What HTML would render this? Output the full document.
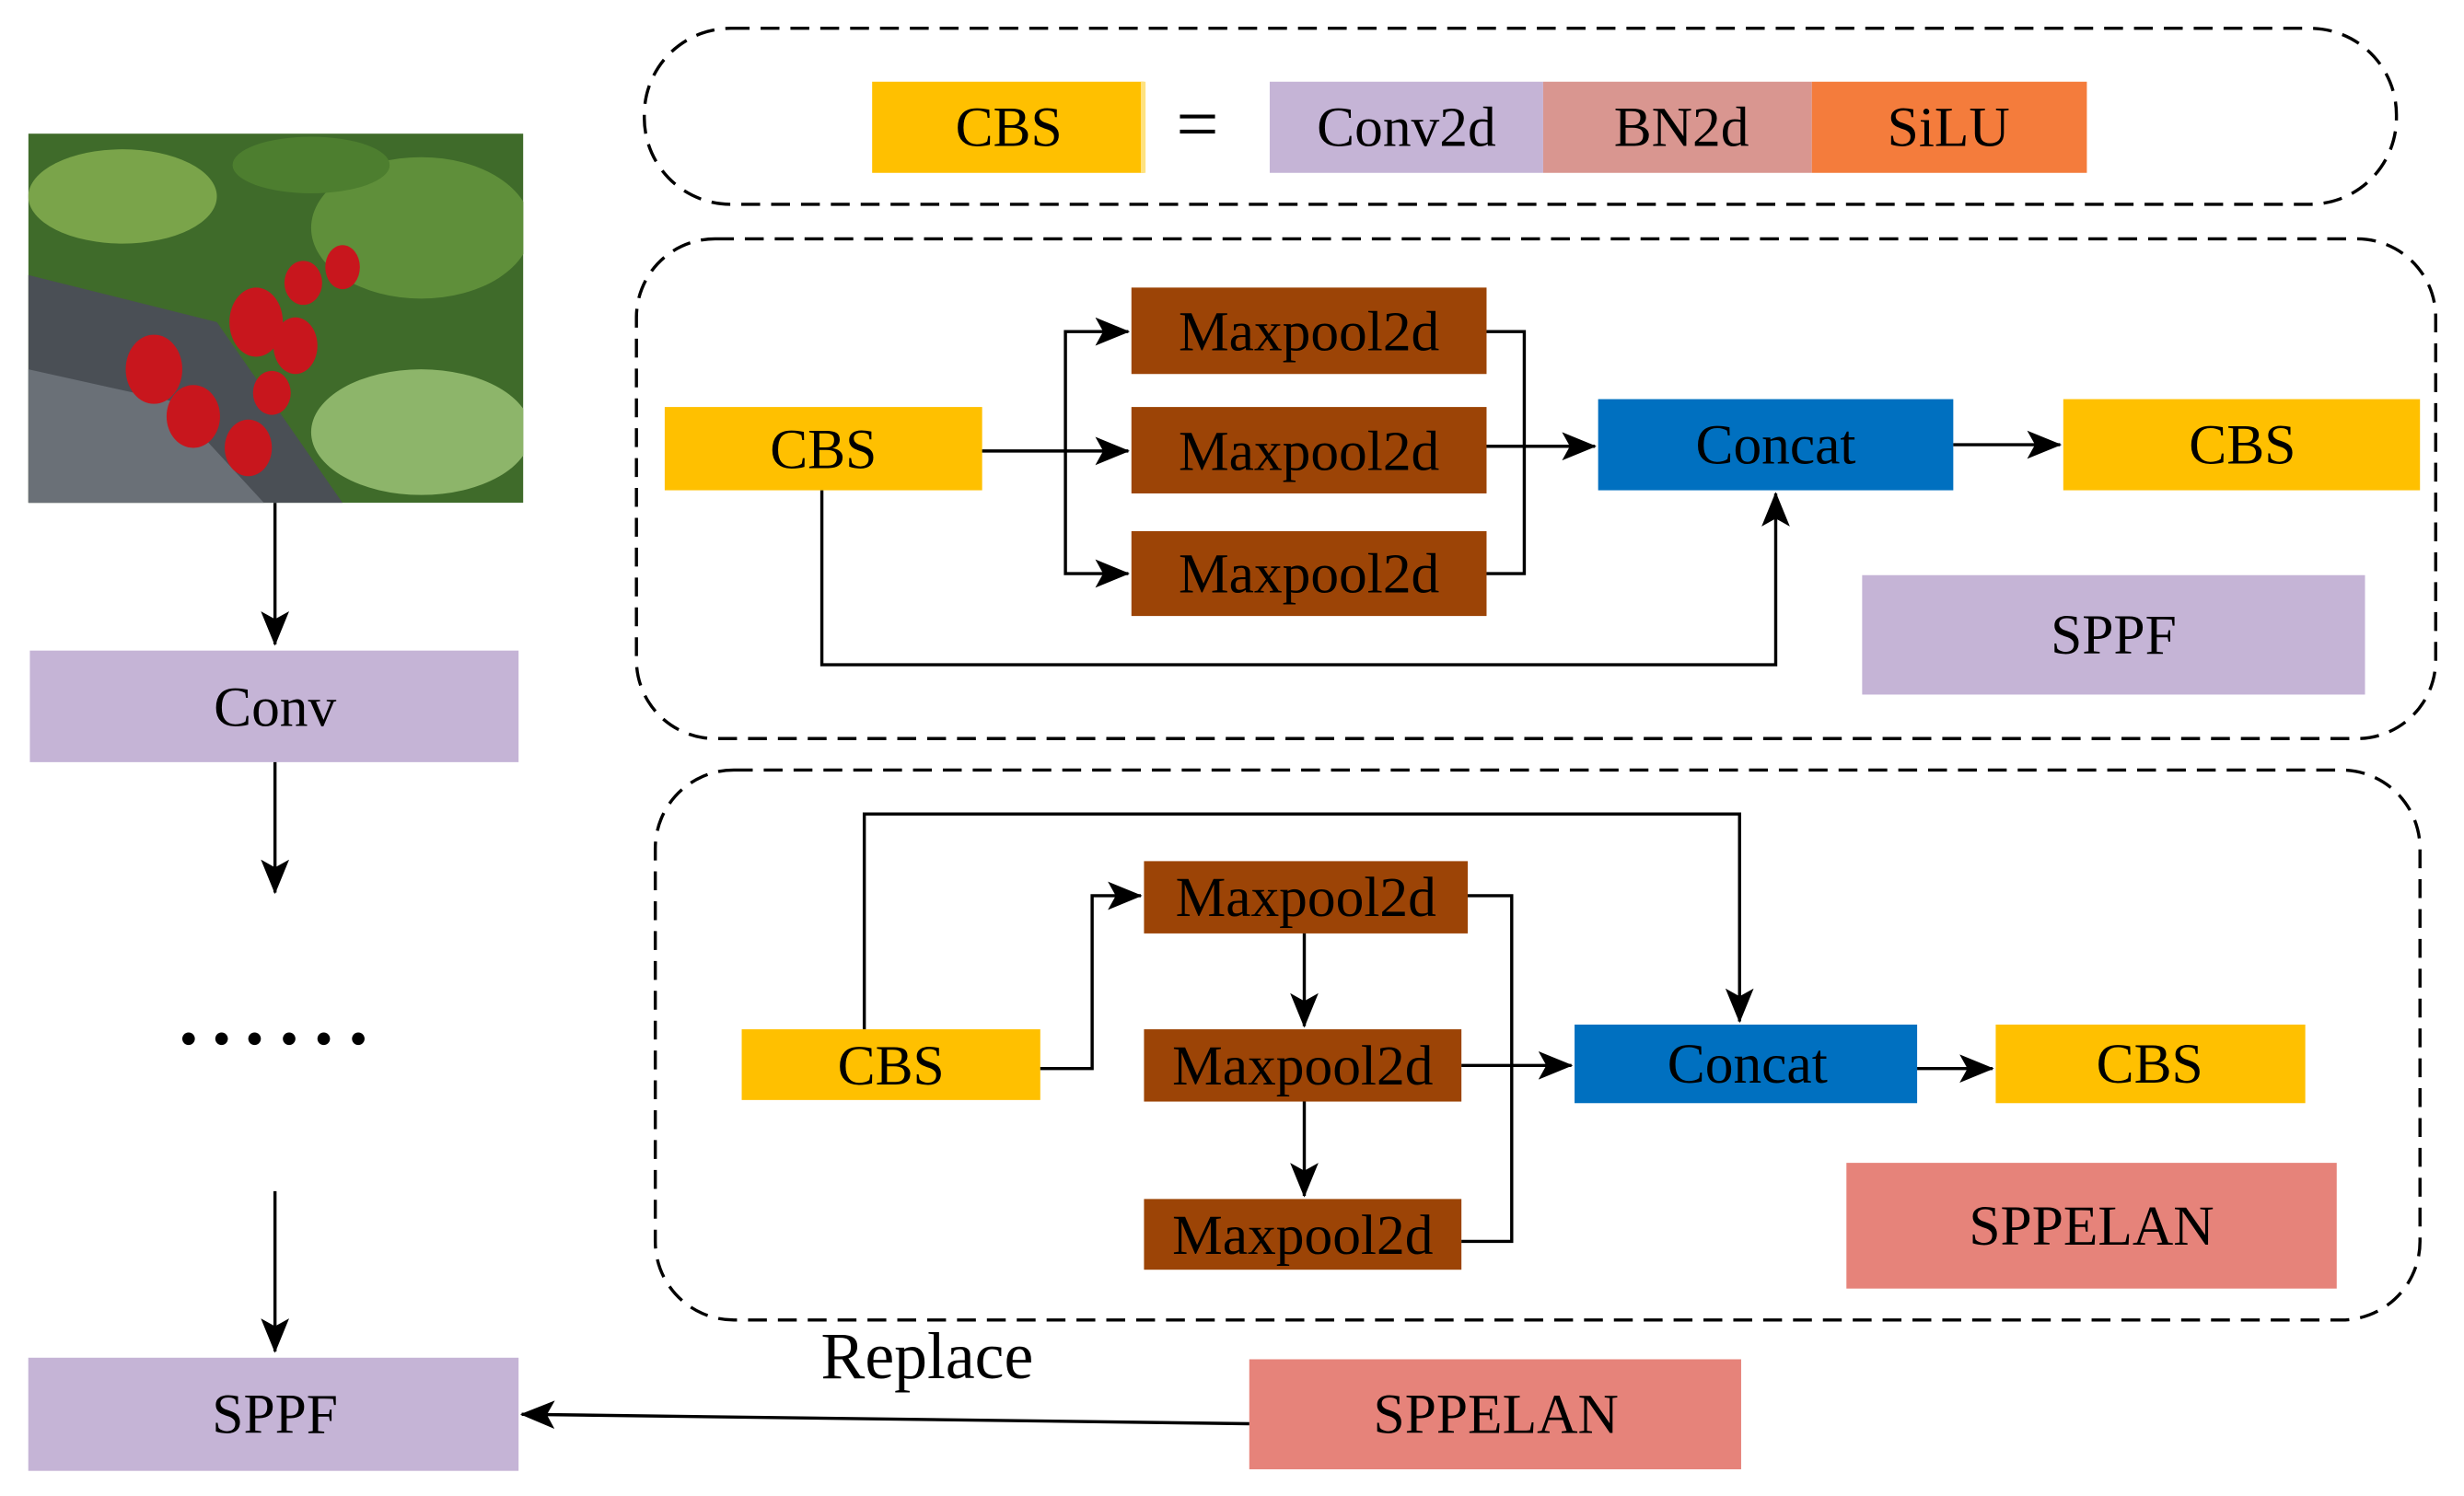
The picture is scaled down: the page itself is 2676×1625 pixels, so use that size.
<!DOCTYPE html>
<html><head><meta charset="utf-8"><style>
html,body{margin:0;padding:0;background:#fff;}
svg{display:block;}
text{font-family:"Liberation Serif",serif;font-size:36px;fill:#000;}
</style></head><body>
<svg width="2676" height="1625" viewBox="0 0 1568 952" preserveAspectRatio="none" xmlns="http://www.w3.org/2000/svg">
<defs>
<marker id="a2" markerWidth="22" markerHeight="18" refX="21" refY="9" orient="auto" markerUnits="userSpaceOnUse" viewBox="0 0 22 18">
<path d="M0,0 L22,9 L0,18 L5,9 z" fill="#000"/></marker>
</defs>
<rect width="1568" height="952" fill="#fff"/>
<g fill="none" stroke="#000" stroke-width="2" stroke-dasharray="12,7">
<rect x="410" y="18" width="1115" height="112" rx="55"/>
<rect x="405" y="152" width="1145" height="318" rx="50"/>
<rect x="417" y="490" width="1123" height="350" rx="50"/>
</g>
<rect x="555" y="52" width="173" height="58" fill="#FFC000"/><rect x="726" y="52" width="3" height="58" fill="#FFE27F"/>
<text x="642" y="93" text-anchor="middle">CBS</text>
<text x="762" y="95" text-anchor="middle" style="font-size:48px">=</text>
<rect x="808" y="52" width="174" height="58" fill="#C5B4D6"/>
<text x="895" y="93" text-anchor="middle">Conv2d</text>
<rect x="982" y="52" width="171" height="58" fill="#D99690"/>
<text x="1070" y="93" text-anchor="middle">BN2d</text>
<rect x="1153" y="52" width="175" height="58" fill="#F47C3C"/>
<text x="1240" y="93" text-anchor="middle">SiLU</text>
<rect x="423" y="259" width="202" height="53" fill="#FFC000"/>
<text x="524" y="298" text-anchor="middle">CBS</text>
<g fill="#9C4406">
<rect x="720" y="183" width="226" height="55"/>
<rect x="720" y="259" width="226" height="55"/>
<rect x="720" y="338" width="226" height="54"/>
</g>
<text x="833" y="223" text-anchor="middle">Maxpool2d</text>
<text x="833" y="299" text-anchor="middle">Maxpool2d</text>
<text x="833" y="377" text-anchor="middle">Maxpool2d</text>
<rect x="1017" y="254" width="226" height="58" fill="#0070C0"/>
<text x="1130" y="295" text-anchor="middle">Concat</text>
<rect x="1313" y="254" width="227" height="58" fill="#FFC000"/>
<text x="1427" y="295" text-anchor="middle">CBS</text>
<rect x="1185" y="366" width="320" height="76" fill="#C5B4D6"/>
<text x="1345" y="416" text-anchor="middle">SPPF</text>
<g fill="none" stroke="#000" stroke-width="2">
<line x1="625" y1="287" x2="718" y2="287" marker-end="url(#a2)"/>
<polyline points="678,287 678,211 718,211" marker-end="url(#a2)"/>
<polyline points="678,287 678,365 718,365" marker-end="url(#a2)"/>
<polyline points="946,211 970,211 970,365 946,365"/>
<line x1="946" y1="284" x2="1015" y2="284" marker-end="url(#a2)"/>
<line x1="1243" y1="283" x2="1311" y2="283" marker-end="url(#a2)"/>
<polyline points="523,312 523,423 1130,423 1130,314" marker-end="url(#a2)"/>
</g>
<rect x="472" y="655" width="190" height="45" fill="#FFC000"/>
<text x="567" y="690" text-anchor="middle">CBS</text>
<g fill="#9C4406">
<rect x="728" y="548" width="206" height="46"/>
<rect x="728" y="655" width="202" height="46"/>
<rect x="728" y="763" width="202" height="45"/>
</g>
<text x="831" y="583" text-anchor="middle">Maxpool2d</text>
<text x="829" y="690" text-anchor="middle">Maxpool2d</text>
<text x="829" y="798" text-anchor="middle">Maxpool2d</text>
<rect x="1002" y="652" width="218" height="50" fill="#0070C0"/>
<text x="1112" y="689" text-anchor="middle">Concat</text>
<rect x="1270" y="652" width="197" height="50" fill="#FFC000"/>
<text x="1368" y="689" text-anchor="middle">CBS</text>
<rect x="1175" y="740" width="312" height="80" fill="#E6837A"/>
<text x="1331" y="792" text-anchor="middle">SPPELAN</text>
<g fill="none" stroke="#000" stroke-width="2">
<polyline points="662,680 695,680 695,570 726,570" marker-end="url(#a2)"/>
<line x1="830" y1="594" x2="830" y2="653" marker-end="url(#a2)"/>
<line x1="830" y1="701" x2="830" y2="761" marker-end="url(#a2)"/>
<polyline points="934,570 962,570 962,790 930,790"/>
<line x1="930" y1="678" x2="1000" y2="678" marker-end="url(#a2)"/>
<line x1="1220" y1="680" x2="1268" y2="680" marker-end="url(#a2)"/>
<polyline points="550,655 550,518 1107,518 1107,650" marker-end="url(#a2)"/>
</g>
<svg x="18" y="85" width="315" height="235" viewBox="0 0 315 235">
<rect width="315" height="235" fill="#3f6b2a"/>
<path d="M0,90 L120,120 L200,235 L0,235 z" fill="#4a4f55"/>
<path d="M0,150 L90,170 L150,235 L0,235z" fill="#6a7077"/>
<ellipse cx="250" cy="60" rx="70" ry="45" fill="#5f8f3a"/>
<ellipse cx="60" cy="40" rx="60" ry="30" fill="#7aa44a"/>
<ellipse cx="250" cy="190" rx="70" ry="40" fill="#8db56a"/>
<ellipse cx="180" cy="20" rx="50" ry="18" fill="#4d7e2f"/>
<g fill="#c8161d">
<ellipse cx="80" cy="150" rx="18" ry="22"/>
<ellipse cx="105" cy="180" rx="17" ry="20"/>
<ellipse cx="140" cy="200" rx="15" ry="18"/>
<ellipse cx="145" cy="120" rx="17" ry="22"/>
<ellipse cx="170" cy="135" rx="14" ry="18"/>
<ellipse cx="175" cy="95" rx="12" ry="14"/>
<ellipse cx="200" cy="85" rx="11" ry="14"/>
<ellipse cx="155" cy="165" rx="12" ry="14"/>
</g>
</svg>
<line x1="175" y1="320" x2="175" y2="410" stroke="#000" stroke-width="2" marker-end="url(#a2)"/>
<rect x="19" y="414" width="311" height="71" fill="#C5B4D6"/>
<text x="175" y="462" text-anchor="middle">Conv</text>
<line x1="175" y1="485" x2="175" y2="568" stroke="#000" stroke-width="2" marker-end="url(#a2)"/>
<g fill="#000">
<circle cx="120" cy="661" r="4"/><circle cx="141" cy="661" r="4"/><circle cx="162" cy="661" r="4"/>
<circle cx="184" cy="661" r="4"/><circle cx="206" cy="661" r="4"/><circle cx="228" cy="661" r="4"/>
</g>
<line x1="175" y1="758" x2="175" y2="860" stroke="#000" stroke-width="2" marker-end="url(#a2)"/>
<rect x="18" y="864" width="312" height="72" fill="#C5B4D6"/>
<text x="175" y="912" text-anchor="middle">SPPF</text>
<rect x="795" y="865" width="313" height="70" fill="#E6837A"/>
<text x="952" y="912" text-anchor="middle">SPPELAN</text>
<line x1="795" y1="906" x2="332" y2="900" stroke="#000" stroke-width="2" marker-end="url(#a2)"/>
<text x="590" y="877" text-anchor="middle" style="font-size:42px">Replace</text>
</svg>
</body></html>
